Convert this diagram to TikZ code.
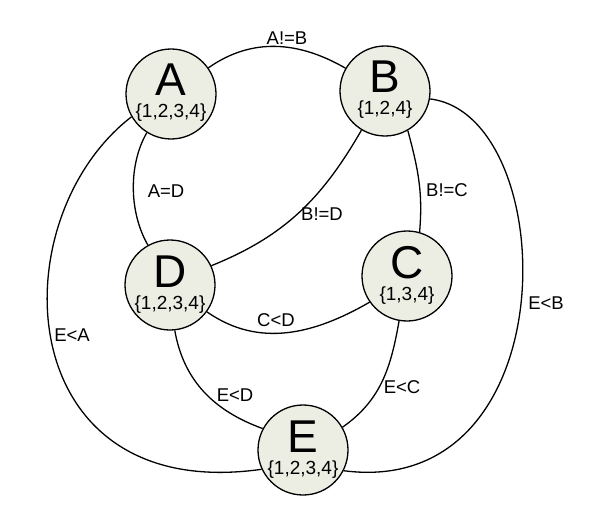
\documentclass[tikz,border=0pt]{standalone}
\usepackage{fontspec}
\setmainfont{Liberation Sans}
\definecolor{nodefill}{RGB}{236,238,228}
\begin{document}
\begin{tikzpicture}[x=1pt,y=1pt,
 state/.style={circle,draw,line width=1.3pt,fill=nodefill,minimum size=90pt,inner sep=0pt},
 big/.style={font=\fontsize{46}{46}\selectfont,anchor=base,inner sep=0pt},
 setl/.style={font=\fontsize{19}{19}\selectfont,anchor=base,inner sep=0pt},
 edge/.style={line width=1.3pt},
 elab/.style={font=\fontsize{18.5}{18.5}\selectfont,inner sep=0pt}]
\fill[white] (0,0) rectangle (602,515);
\useasboundingbox (0,0) rectangle (602,515);
\coordinate (cA) at (171,421);
\coordinate (cB) at (385,424);
\coordinate (cC) at (407,239);
\coordinate (cD) at (170,230);
\coordinate (cE) at (303,65);
\node[state] (A) at (cA) {};
\node[state] (B) at (cB) {};
\node[state] (C) at (cC) {};
\node[state] (D) at (cD) {};
\node[state] (E) at (cE) {};
\draw[edge] (A.35) to[out=35,in=150] (B.150);
\draw[edge] (A.-122) to[out=-120,in=120,looseness=0.85] (D.119);
\draw[edge] (B.-121) to[out=-120,in=22] (D.25);
\draw[edge] (B.-60) to[out=-75,in=85] (C.74);
\draw[edge] (D.-36) to[out=-35,in=-150] (C.-145);
\draw[edge] (D.-84) to[out=-80,in=160] (E.152);
\draw[edge] (C.-100) to[out=-100,in=35] (E.30);
\draw[edge] (A.-150) .. controls (-2,295) and (10,10) .. (E.-155);
\draw[edge] (B.-10) .. controls (562,400) and (570,15) .. (E.-27);
% node labels
\node[big] (Al) at (171,419) {A};
\node[setl] (As) at (171,397) {\{1,2,3,4\}};
\node[big] (Bl) at (385,422) {B};
\node[setl] (Bs) at (385,400) {\{1,2,4\}};
\node[big] (Cl) at (407,237) {C};
\node[setl] (Cs) at (407,215) {\{1,3,4\}};
\node[big] (Dl) at (170,228) {D};
\node[setl] (Ds) at (170,206) {\{1,2,3,4\}};
\node[big] (El) at (303,63) {E};
\node[setl] (Es) at (303,41) {\{1,2,3,4\}};
% edge labels
\node[elab] (lAB) at (287,477) {A!=B};
\node[elab] (lAD) at (166,324) {A=D};
\node[elab] (lBD) at (322,301) {B!=D};
\node[elab] (lBC) at (447,325) {B!=C};
\node[elab] (lCD) at (276,195) {C<D};
\node[elab] (lEA) at (72,180) {E<A};
\node[elab] (lEB) at (546,212) {E<B};
\node[elab] (lED) at (235,120) {E<D};
\node[elab] (lEC) at (402,128) {E<C};
\end{tikzpicture}
\end{document}
